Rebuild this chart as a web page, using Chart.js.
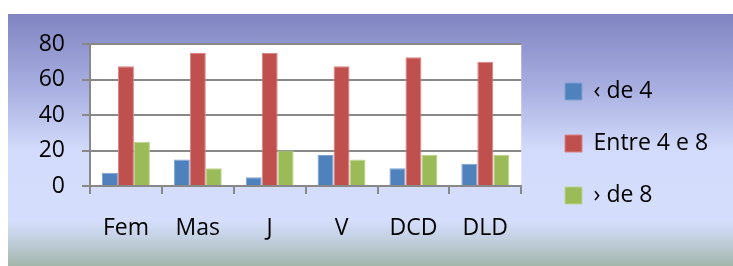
<!DOCTYPE html>
<html>
<head>
<meta charset="utf-8">
<script src="https://cdn.jsdelivr.net/npm/chart.js@4/dist/chart.umd.min.js"></script>
<style>
  html, body { margin: 0; padding: 0; background: #fff; }
  #wrap { position: relative; width: 733px; height: 266px; overflow: hidden; }
  #bg {
    position: absolute; left: 8px; top: 14px; width: 725px; height: 252px;
    background: linear-gradient(to bottom, #8084c1 0%, #a9b0e1 30%, #d2dbfb 54%, #d5defc 82%, #c6d3e6 88%, #a3b6ab 100%);
  }
  #chart { position: absolute; left: 0; top: 0; }
</style>
</head>
<body>
<div id="wrap">
  <div id="bg"></div>
  <canvas id="chart" width="733" height="266"></canvas>
</div>
<script>
// Data
const categories = ['Fem', 'Mas', 'J', 'V', 'DCD', 'DLD'];
const seriesNames = ['\u2039 de 4', 'Entre 4 e 8', '\u203A de 8'];
const menosDe4 = [7.5, 15, 5, 17.5, 10, 12.5];
const entre4e8 = [67.5, 75, 75, 67.5, 72.5, 70];
const maisDe8 = [25, 10, 20, 15, 17.5, 17.5];
const yMin = 0, yMax = 80, yStep = 20;

const fillColors = ['#4f81bd', '#c0504d', '#9bbb59'];
const edgeColors = ['#7ea2d2', '#d98583', '#bcd48e'];
const gridGray = '#888888';
const font = { family: 'Open Sans', size: 23 };

// white plot area
const plotBackground = {
    id: 'plotBackground',
    beforeDraw(chart) {
        const { ctx, chartArea: a } = chart;
        ctx.save();
        ctx.fillStyle = '#ffffff';
        ctx.fillRect(a.left, a.top, a.right - a.left, a.bottom - a.top);
        ctx.restore();
    }
};

// put the legend where the original has it
const legendPlace = {
    id: 'legendPlace',
    afterLayout(chart) {
        const lg = chart.legend;
        lg.left = 536; lg.right = 733;
        lg.width = lg.right - lg.left;
        lg.top = 51; lg.bottom = 266;
        lg.height = lg.bottom - lg.top;
    }
};

new Chart(document.getElementById('chart'), {
    type: 'bar',
    data: {
        labels: categories,
        datasets: [menosDe4, entre4e8, maisDe8].map((values, i) => ({
            label: seriesNames[i],
            data: values,
            backgroundColor: fillColors[i],
            borderColor: edgeColors[i],
            borderWidth: 1,
            categoryPercentage: 0.667,
            barPercentage: 1
        }))
    },
    options: {
        responsive: false,
        animation: false,
        devicePixelRatio: 1,
        layout: { padding: { left: 39, right: 51, top: 44, bottom: 24 } },
        plugins: {
            legend: {
                position: 'right',
                align: 'start',
                labels: {
                    boxWidth: 17,
                    boxHeight: 17,
                    padding: 29,
                    color: '#000',
                    font: font
                }
            },
            tooltip: { enabled: false }
        },
        scales: {
            x: {
                grid: {
                    drawOnChartArea: false,
                    color: gridGray,
                    lineWidth: 2,
                    tickLength: 8
                },
                border: { color: gridGray, width: 2 },
                ticks: { color: '#000', font: font, padding: 21 },
                afterFit(scale) {
                    scale.height = 56;
                    scale.paddingLeft = 0;
                    scale.paddingRight = 0;
                }
            },
            y: {
                min: yMin,
                max: yMax,
                grid: { color: gridGray, lineWidth: 2, tickLength: 8 },
                border: { color: gridGray, width: 2 },
                ticks: { stepSize: yStep, color: '#000', font: font, padding: 17 },
                afterFit(scale) {
                    scale.width = 51;
                    scale.paddingTop = 0;
                    scale.paddingBottom = 0;
                }
            }
        }
    },
    plugins: [plotBackground, legendPlace]
});
</script>
</body>
</html>
